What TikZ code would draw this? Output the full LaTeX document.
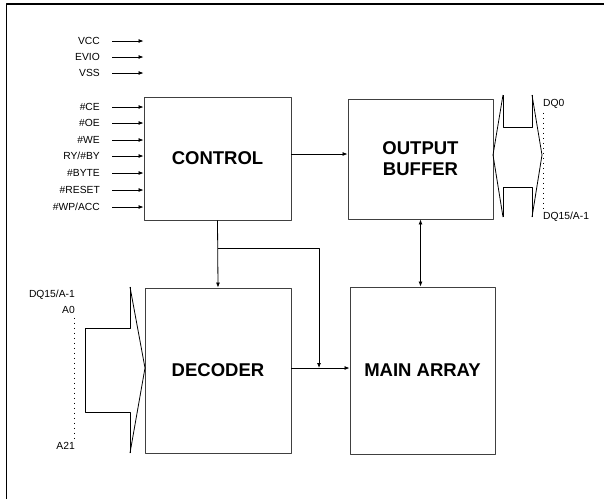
\documentclass[tikz,border=0pt]{standalone}
\usepackage{fontspec}
\setsansfont{Liberation Sans}
\usetikzlibrary{arrows.meta}

\begin{document}
\begin{tikzpicture}[x=1pt, y=-1pt, font=\sffamily, line join=round,
    block/.style={draw=black!75, line width=0.9pt, inner sep=0pt, align=center,
                  font=\sffamily\bfseries\fontsize{18.5}{21}\selectfont},
    lbl/.style={inner sep=0pt, font=\sffamily\fontsize{10.3}{12}\selectfont},
    arr/.style={line width=0.8pt, -{Latex[length=5pt,width=4pt]}},
    bus/.style={line width=0.8pt},
    dots/.style={line width=0.7pt, dash pattern=on 0.7pt off 4.3pt}]
    \useasboundingbox (0,0) rectangle (604,499);

    % page frame (top and left only)
    \draw[line width=1.5pt] (6.5,499) -- (6.5,4) -- (604,4);

    % Blocks
    \node[block, minimum width=147pt, minimum height=123pt] (control) at (217.5,158.5) {CONTROL};
    \node[block, minimum width=145pt, minimum height=120pt] (buffer)  at (420.5,159)   {OUTPUT\\BUFFER};
    \node[block, minimum width=146pt, minimum height=165pt] (decoder) at (218,370.5)   {DECODER};
    \node[block, minimum width=145pt, minimum height=167pt] (array)   at (422.5,370.5) {MAIN ARRAY};

    % Input pins on the left
    \foreach \pin/\y [count=\i] in {{VCC}/41, {EVIO}/57, {VSS}/73, {\#CE}/107, {\#OE}/123, {\#WE}/140,
                                    {RY/\#BY}/156, {\#BYTE}/173, {\#RESET}/190, {\#WP/ACC}/207} {
        \node[lbl, anchor=east] (pin\i) at (100,\y) {\pin};
        \draw[arr] ([xshift=12pt]pin\i.east) -- (pin\i.east -| control.west);
    }

    % Connections between blocks
    \coordinate (split) at (218,248);
    \coordinate (merge) at (319,368);
    \draw[arr] (control.east |- 0,154) -- (buffer.west |- 0,154);
    \draw[arr] (control.south) -- (decoder.north);
    \draw[arr] (split) -| (merge);
    \draw[arr] (decoder.east |- merge) -- (array.west |- merge);
    \draw[arr, {Latex[length=5pt,width=4pt]}-{Latex[length=5pt,width=4pt]}]
        (buffer.south) -- (buffer.south |- array.north);

    % Data bus on the right
    \draw[bus] (503,95) -- (493,155) -- (503,217);
    \draw[bus] (532,95) -- (542,155) -- (532,217);
    \draw[bus] (503,95) -- (503,127) -- (532,127) -- (532,95);
    \draw[bus] (503,217) -- (503,187) -- (532,187) -- (532,217);
    \node[lbl, anchor=west] (dq0)  at (543,104) {DQ0};
    \node[lbl, anchor=west] (dq15) at (543,217) {DQ15/A-1};
    \draw[dots] ([yshift=-4pt]dq0.south west) -- ([yshift=2pt]dq15.north west);

    % Address bus on the left
    \draw[bus] (130,287) -- (145,368) -- (130,453);
    \draw[bus] (130,287) -- (130,328) -- (85,328) -- (85,412) -- (130,412) -- (130,453);
    \node[lbl, anchor=east] (dq15a) at (75,295) {DQ15/A-1};
    \node[lbl, anchor=east] (a0)    at (75,310) {A0};
    \node[lbl, anchor=east] (a21)   at (75,446) {A21};
    \draw[dots] ([xshift=-1pt,yshift=-4pt]a0.south east) -- ([xshift=-1pt,yshift=2pt]a21.north east);
\end{tikzpicture}
\end{document}
